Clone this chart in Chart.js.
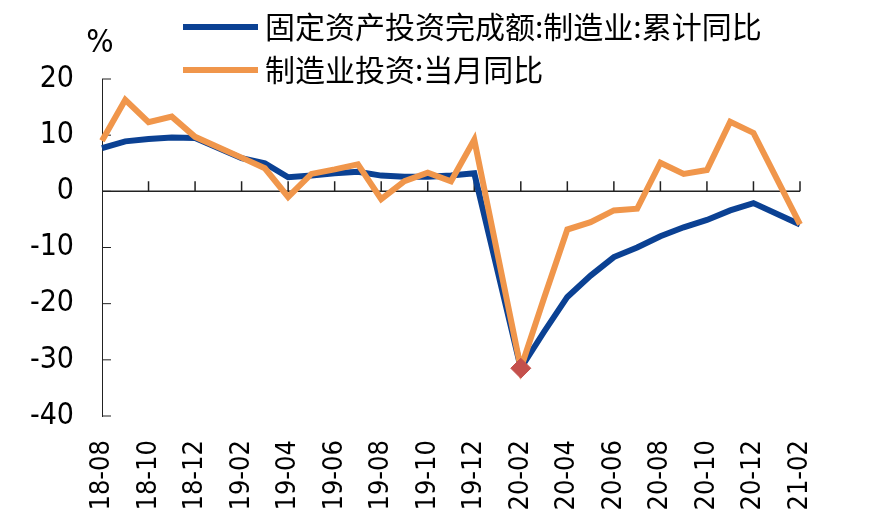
<!DOCTYPE html>
<html><head><meta charset="utf-8">
<script src="https://cdn.jsdelivr.net/npm/chart.js@4/dist/chart.umd.min.js"></script>
<style>html,body{margin:0;padding:0;background:#fff}#wrap{width:884px;height:530px}</style>
</head><body><div id="wrap"><canvas id="c" width="884" height="530"></canvas></div>
<script>
const months = ['18-08','18-09','18-10','18-11','18-12','19-01','19-02','19-03','19-04','19-05','19-06','19-07','19-08','19-09','19-10','19-11','19-12','20-01','20-02','20-03','20-04','20-05','20-06','20-07','20-08','20-09','20-10','20-11','20-12','21-01','21-02'];
const cumulativeYoY = [7.7,8.9,9.3,9.6,9.5,null,5.9,5.0,2.5,2.8,3.2,3.5,2.8,2.6,2.6,2.8,3.2,null,-31.5,-25.0,-18.8,-15.0,-11.7,-10.0,-8.0,-6.4,-5.1,-3.4,-2.1,null,-5.9];
const monthlyYoY = [9.0,16.3,12.3,13.3,9.7,null,6.0,4.1,-1.0,3.1,3.9,4.8,-1.4,1.8,3.3,1.8,9.2,null,-31.5,-19.0,-6.8,-5.5,-3.4,-3.1,5.1,3.1,3.8,12.4,10.4,null,-5.9];
const markerValues = [null,null,null,null,null,null,null,null,null,null,null,null,null,null,null,null,null,null,-31.5,null,null,null,null,null,null,null,null,null,null,null,null];
const yTicks = [20,10,0,-10,-20,-30,-40];
const seriesNames = ['固定资产投资完成额:制造业:累计同比','制造业投资:当月同比'];
const unitLabel = '%';

const BLUE = '#0b4193', ORANGE = '#f0964b', RED = '#c4504c';

const decor = {
  id: 'decor',
  beforeDatasetsDraw(chart) {
    const {ctx, chartArea: a, scales: {x, y}} = chart;
    const y0 = y.getPixelForValue(0);
    ctx.save();
    ctx.strokeStyle = '#222';
    ctx.lineWidth = 1.5;
    ctx.beginPath();
    ctx.moveTo(a.left, y0); ctx.lineTo(a.right, y0);
    months.forEach((m, i) => {
      if (i > 0 && i % 2 === 0) {
        const px = x.getPixelForValue(i);
        ctx.moveTo(px, y0); ctx.lineTo(px, y0 - 10);
      }
    });
    ctx.stroke();
    ctx.lineWidth = 1;
    ctx.beginPath();
    yTicks.forEach(v => {
      const py = y.getPixelForValue(v);
      ctx.moveTo(a.left, py); ctx.lineTo(a.left + 9, py);
    });
    ctx.stroke();
    ctx.restore();
  },
  afterDraw(chart) {
    const ctx = chart.ctx;
    ctx.save();
    const rows = [27, 70];
    chart.data.datasets.forEach((ds, i) => {
      if (!ds.label) return;
      const ry = rows[i];
      ctx.strokeStyle = ds.borderColor;
      ctx.lineWidth = 6;
      ctx.beginPath(); ctx.moveTo(183, ry); ctx.lineTo(258, ry); ctx.stroke();
      ctx.fillStyle = '#000';
      ctx.font = '30px "Noto Sans CJK SC"';
      ctx.textBaseline = 'middle';
      ctx.textAlign = 'left';
      ctx.fillText(ds.label, 265, ry);
    });
    ctx.font = '32px "DejaVu Sans Condensed"';
    ctx.textAlign = 'center';
    ctx.textBaseline = 'middle';
    ctx.fillStyle = '#000';
    ctx.fillText(unitLabel, 100, 44);
    ctx.restore();
  }
};

new Chart(document.getElementById('c'), {
  type: 'line',
  data: {
    labels: months,
    datasets: [
      {label: seriesNames[0], data: cumulativeYoY, borderColor: BLUE, backgroundColor: BLUE, borderWidth: 6, pointRadius: 0, tension: 0, spanGaps: true, order: 2},
      {label: seriesNames[1], data: monthlyYoY, borderColor: ORANGE, backgroundColor: ORANGE, borderWidth: 6, pointRadius: 0, tension: 0, spanGaps: true, order: 1},
      {label: '', data: markerValues, showLine: false, pointStyle: 'rectRot', pointRadius: 10, pointBackgroundColor: RED, pointBorderColor: RED, borderColor: RED, order: 0}
    ]
  },
  options: {
    responsive: false,
    animation: false,
    devicePixelRatio: 1,
    layout: {padding: {top: 79, right: 84, bottom: 0, left: 0}},
    plugins: {legend: {display: false}, tooltip: {enabled: false}},
    scales: {
      x: {
        offset: false,
        grid: {display: false, drawTicks: false},
        border: {display: false},
        ticks: {
          autoSkip: false, maxRotation: 90, minRotation: 90, padding: 24,
          color: '#000', font: {family: '"DejaVu Sans Condensed"', size: 27},
          callback: (v, i) => (i % 2 === 0 ? months[i] : '')
        },
        afterFit: s => { s.height = 114; }
      },
      y: {
        min: -40, max: 20,
        grid: {display: false, drawTicks: false},
        border: {display: true, color: '#222', width: 1},
        ticks: {stepSize: 10, padding: 28, color: '#000', font: {family: '"DejaVu Sans Condensed"', size: 30}},
        afterFit: s => { s.width = 102; }
      }
    }
  },
  plugins: [decor]
});
</script>
</body></html>
